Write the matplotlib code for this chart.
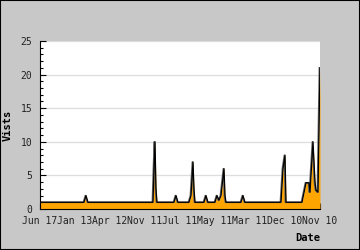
import matplotlib
matplotlib.use("Agg")
import matplotlib.pyplot as plt
from matplotlib.patches import Rectangle

# record index (x) and visits at each vertex of the line
record = [0, 44, 46, 48, 113, 114, 115, 116, 117, 134, 136, 138, 149, 151, 153, 154, 155,
          164, 166, 168, 175, 177, 179, 181, 184, 185, 186, 201, 203, 205, 241, 243, 245, 246,
          262, 266, 269, 270, 273, 275, 276, 278, 280]
visits = [1, 1, 2, 1, 1, 6, 10, 3, 1, 1, 2, 1, 1, 2, 7, 3, 1,
          1, 2, 1, 1, 2, 1.3, 2, 6, 2, 1, 1, 2, 1, 1, 6, 8, 1,
          1, 3.9, 3.9, 2.5, 10, 4, 2.8, 2.5, 21]

tick_pos = [0, 35, 70, 105, 140, 175, 210, 245, 280]
tick_labels = ["Jun 17", "Jan 13", "Apr 12", "Nov 11", "Jul 11", "May 11", "Mar 11", "Dec 10", "Nov 10"]

mono = "DejaVu Sans Mono"
fig = plt.figure(figsize=(3.6, 2.5), dpi=100, facecolor="#c8c8c8")
fig.patches.append(Rectangle((0, 0), 1, 1, transform=fig.transFigure, fill=False,
                             edgecolor="black", linewidth=1.5))
ax = fig.add_axes([40 / 360, 1 - 209 / 250, 280 / 360, 168 / 250])

ax.fill_between(record, visits, 0, color="#ffa500", linewidth=0)
ax.plot([r - 0.6 for r in record], visits, color="#666666", linewidth=1.2)
ax.plot(record, visits, color="black", linewidth=0.9)

ax.set_xlim(0, 280)
ax.set_ylim(0, 25)
ax.set_yticks([0, 5, 10, 15, 20, 25])
ax.set_yticks(range(0, 26), minor=True)
ax.set_xticks(tick_pos)
ax.set_xticklabels(tick_labels)
ax.yaxis.grid(True, color="#dddddd", linewidth=0.9)
ax.set_axisbelow(True)
ax.spines["top"].set_visible(False)
ax.spines["right"].set_visible(False)
ax.tick_params(axis="both", which="major", direction="in", length=4, width=0.8,
               labelsize=7, labelcolor="#222222")
ax.tick_params(axis="x", which="major", pad=5)
ax.tick_params(axis="y", which="major", pad=5.5)
ax.tick_params(axis="y", which="minor", direction="in", length=2.5, width=0.8)
for lab in ax.get_xticklabels() + ax.get_yticklabels():
    lab.set_family(mono)

ax.set_ylabel("Vists", family=mono, fontsize=7.5, fontweight="bold", labelpad=6)
ax.set_xlabel("Date", family=mono, fontsize=7.5, fontweight="bold", loc="right", labelpad=5)

fig.savefig("out.png", dpi=100, facecolor=fig.get_facecolor())
